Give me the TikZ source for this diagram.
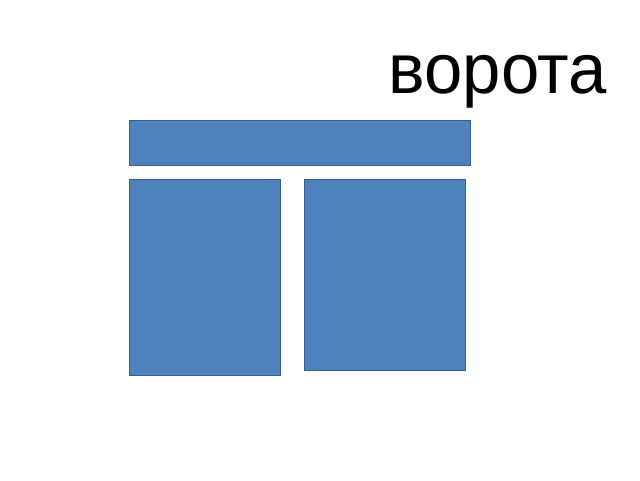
\documentclass[tikz,border=0pt]{standalone}
\usepackage{fontspec}
\setmainfont{Liberation Sans}
\definecolor{boxfill}{HTML}{4F81BD}
\definecolor{boxline}{HTML}{385D8A}
\begin{document}
\begin{tikzpicture}[x=1pt,y=-1pt,
  panel/.style={draw=boxline,fill=boxfill,line width=1pt}]
\useasboundingbox[fill=white] (0,0) rectangle (640,480);
\path[panel] (129.5,120) rectangle (470,165) coordinate (topbar);
\path[panel] (129.5,179.5) rectangle (280,375) coordinate (leftdoor);
\path[panel] (304,179.5) rectangle (465,370) coordinate (rightdoor);
\node[anchor=base west,inner sep=0pt,xscale=0.97,font=\fontsize{71}{80}\selectfont] (title) at (388.5,93.5) {ворота};
\end{tikzpicture}
\end{document}
